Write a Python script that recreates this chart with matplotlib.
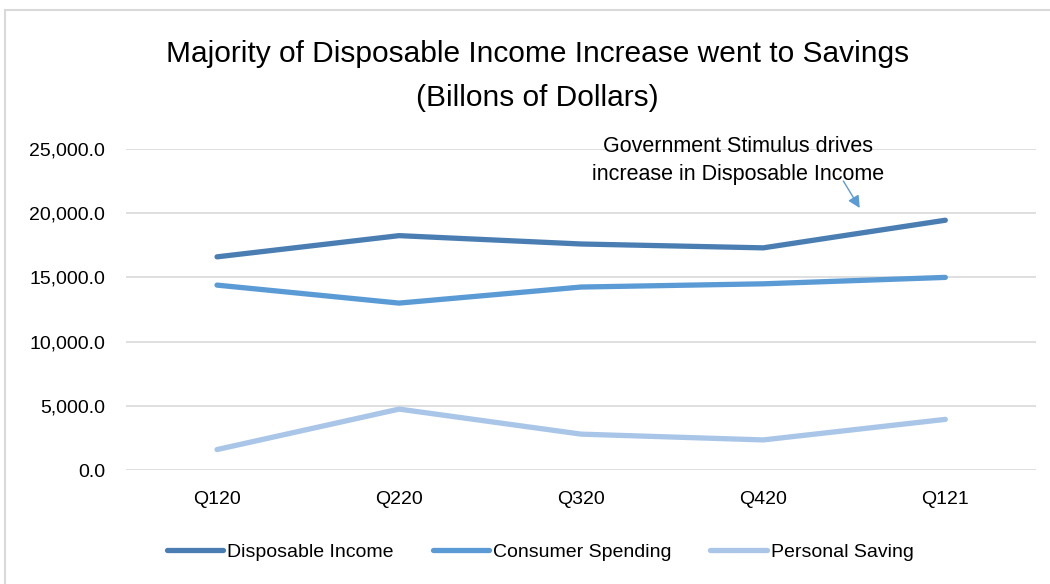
import matplotlib.pyplot as plt
from matplotlib.patches import Rectangle
from matplotlib.ticker import FuncFormatter

quarters = ["Q120", "Q220", "Q320", "Q420", "Q121"]
disposable_income = [16600, 18250, 17600, 17300, 19450]
consumer_spending = [14400, 13000, 14250, 14500, 15000]
personal_saving = [1600, 4750, 2800, 2350, 3950]

plt.rcParams["font.family"] = ["Liberation Sans", "DejaVu Sans"]

fig = plt.figure(figsize=(10.5, 5.84), dpi=100)
ax = fig.add_axes([0.12, 0.195, 0.867, 0.55])

x = range(len(quarters))
ax.plot(x, disposable_income, color="#4A7EB3", lw=3.8, solid_capstyle="round", label="Disposable Income")
ax.plot(x, consumer_spending, color="#5B9BD5", lw=3.8, solid_capstyle="round", label="Consumer Spending")
ax.plot(x, personal_saving, color="#A9C5E7", lw=3.8, solid_capstyle="round", label="Personal Saving")

ax.set_xlim(-0.5, len(quarters) - 0.5)
ax.set_ylim(0, 25000)
ax.set_yticks(range(0, 25001, 5000))
ax.yaxis.set_major_formatter(FuncFormatter(lambda v, p: f"{v:,.1f}"))
ax.set_xticks(list(x))
ax.set_xticklabels(quarters)
ax.tick_params(length=0, labelsize=14, pad=15)
ax.tick_params(axis="y", pad=15)
ax.grid(axis="y", color="#D9D9D9", lw=1.2)
ax.set_axisbelow(True)
for s in ax.spines.values():
    s.set_visible(False)

fig.text(0.512, 0.87, "Majority of Disposable Income Increase went to Savings\n(Billons of Dollars)",
         ha="center", va="center", fontsize=21.5, linespacing=1.75)

ax.text(2.86, 24100, "Government Stimulus drives\nincrease in Disposable Income",
        ha="center", va="center", fontsize=15.5, linespacing=1.4)
ax.annotate("", xy=(3.53, 20400), xytext=(3.44, 22500),
            arrowprops=dict(arrowstyle="-|>", color="#5B9BD5", lw=1,
                            mutation_scale=18, shrinkA=0, shrinkB=0))

ax.legend(loc="center", bbox_to_anchor=(0.455, -0.255), ncol=3, frameon=False,
          fontsize=14, handlelength=2.9, handletextpad=0.2, columnspacing=2.0)

fig.patches.append(Rectangle((0.005, -0.01), 1.1, 0.993, transform=fig.transFigure,
                             fill=False, edgecolor="#D9D9D9", lw=1.5))

fig.savefig("out.png", dpi=100)
